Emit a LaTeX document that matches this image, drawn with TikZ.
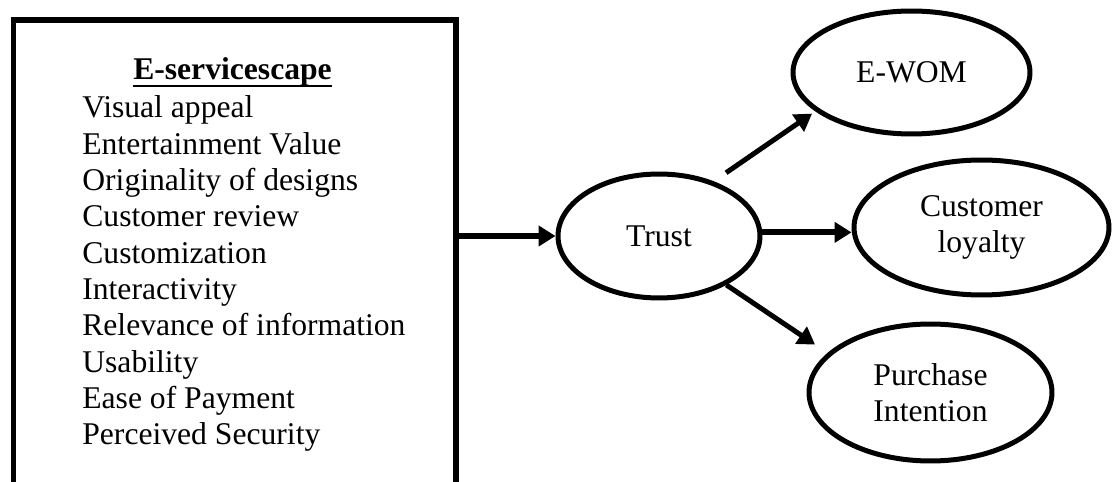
\documentclass[tikz,border=0pt]{standalone}
\usepackage{fontspec}
\setmainfont{Liberation Serif}
\usetikzlibrary{arrows.meta,shapes.geometric,calc}

\tikzset{
  construct/.style={draw,ellipse,line width=0.1cm,inner sep=0pt,align=center},
  link/.style={line width=0.12cm,-{Triangle[length=0.34cm,width=0.4cm]}},
}

\begin{document}
\begin{tikzpicture}[x=0.02cm,y=-0.02cm,font=\fontsize{18}{20.8}\selectfont]
  \clip (0,0) rectangle (1113,482);
  \fill[white] (0,0) rectangle (1113,482);

  % dimension box (runs on past the bottom edge)
  \node[draw,line width=0.106cm,inner sep=0pt,minimum width=8.85cm,minimum height=10cm,anchor=north west] (scape) at (11,17.5) {};
  \node[anchor=base,inner sep=0pt,font=\fontsize{18}{20.8}\selectfont\bfseries] (title) at (232.5,80) {E-servicescape};
  \draw[line width=0.045cm] ([yshift=-0.12cm]title.base west) -- ([yshift=-0.12cm]title.base east);
  % base anchor sits on the last line
  \node[anchor=base west,align=left,inner sep=0pt,font=\fontsize{18}{20.7}\selectfont] (items) at (82,445) {Visual appeal\\
    Entertainment Value\\
    Originality of designs\\
    Customer review\\
    Customization\\
    Interactivity\\
    Relevance of information\\
    Usability\\
    Ease of Payment\\
    Perceived Security};

  % constructs
  \node[construct,minimum width=4.04cm,minimum height=2.48cm] (trust) at (659,236) {Trust};
  \node[construct,minimum width=4.74cm,minimum height=2.46cm] (ewom) at (911.5,72.5) {E-WOM};
  \node[construct,minimum width=5.1cm,minimum height=2.7cm] (loyal) at (981.5,227.5) {Customer\\loyalty};
  \node[construct,minimum width=4.86cm,minimum height=2.74cm] (purch) at (930.5,392.5) {Purchase\\Intention};

  % paths
  \draw[link] (scape.east |- trust.west) -- (trust.west);
  \draw[link] (trust.2) -- (trust.2 -| loyal.west);
  \draw[link,line width=0.1cm,shorten <=0.3cm,shorten >=0.08cm] (trust.45) -- (ewom.202);
  \draw[link,line width=0.1cm,shorten >=0.3cm] (trust.-36) -- (purch.159);
\end{tikzpicture}
\end{document}
